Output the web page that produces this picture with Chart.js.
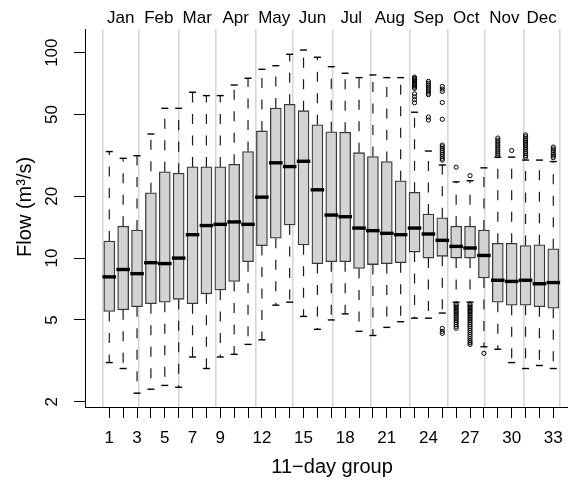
<!DOCTYPE html>
<html>
<head>
<meta charset="utf-8">
<script src="https://cdn.jsdelivr.net/npm/chart.js@4.4.1/dist/chart.umd.min.js"></script>
<style>
  html, body { margin: 0; padding: 0; background: #fff; }
  #wrap { width: 568px; height: 480px; }
</style>
</head>
<body>
<div id="wrap"><canvas id="chart" width="568" height="480"></canvas></div>
<script>
// Flow per 11-day group of the year (m³/s): box-and-whisker summaries
const groups = [1, 2, 3, 4, 5, 6, 7, 8, 9, 10, 11, 12, 13, 14, 15, 16, 17,
                18, 19, 20, 21, 22, 23, 24, 25, 26, 27, 28, 29, 30, 31, 32, 33];

const whiskerHigh = [33.0, 30.6, 31.5, 40.2, 53.6, 53.6, 64.2, 61.8, 61.8, 69.6, 75.1,
                     83.0, 86.4, 98.2, 103, 95.0, 85.5, 79.4, 75.6, 77.9, 75.6, 75.6,
                     51.3, 33.2, 28.4, 23.5, 23.8, 27.5, 31.0, 31.0, 30.0, 30.0, 29.5];

const upperQuartile = [12.1, 14.3, 13.7, 20.8, 26.3, 25.9, 27.8, 27.8, 27.8, 28.6, 33.0,
                       41.6, 53.8, 56.1, 52.2, 44.6, 41.2, 41.0, 32.6, 31.2, 29.5, 23.8,
                       20.9, 16.4, 15.7, 14.3, 14.3, 13.7, 11.8, 11.8, 11.5, 11.6, 11.1];

const median = [8.1, 8.8, 8.4, 9.5, 9.4, 10.0, 13.0, 14.4, 14.6, 15.0, 14.6,
                19.8, 29.1, 27.9, 29.6, 21.5, 16.2, 15.9, 14.0, 13.6, 13.2, 13.0,
                14.0, 13.1, 12.2, 11.4, 11.2, 10.3, 7.8, 7.7, 7.8, 7.5, 7.6];

const lowerQuartile = [5.5, 5.6, 5.8, 6.0, 6.1, 6.3, 6.0, 6.7, 7.0, 7.7, 9.6,
                       11.5, 12.5, 14.5, 11.6, 9.4, 9.6, 9.6, 8.9, 9.3, 9.4, 9.5,
                       10.7, 10.0, 10.2, 10.0, 10.0, 8.0, 6.1, 5.9, 5.9, 5.8, 5.7];

const whiskerLow = [3.1, 2.9, 2.2, 2.3, 2.4, 2.35, 3.3, 2.9, 3.3, 3.4, 3.8,
                    4.0, 5.9, 6.1, 5.2, 4.5, 5.0, 5.35, 4.4, 4.2, 4.6, 4.9,
                    5.1, 5.1, 5.4, 6.1, 6.1, 3.7, 3.6, 3.1, 2.9, 3.0, 2.9];

// [group, values beyond the whiskers]
const outliers = [
  [23, [76.0, 75.0, 74.0, 73.0, 72.0, 71.0, 70.0, 69.0, 68.0, 67.0, 63.0, 61.0, 59.0, 57.0]],
  [24, [72.5, 71.0, 69.5, 68.0, 66.5, 65.0, 63.5, 62.5, 48.6, 47.0]],
  [25, [68.5, 66.5, 64.8, 57.2, 47.4, 35.5, 34.8, 34.1, 33.4, 32.7, 32.0, 31.3, 30.6, 30.0,
        4.55, 4.4, 4.3]],
  [26, [27.7, 5.95, 5.85, 5.75, 5.65, 5.55, 5.45, 5.35, 5.25, 5.15, 5.05, 4.95, 4.85, 4.75,
        4.65, 4.55]],
  [27, [25.2, 5.95, 5.85, 5.75, 5.65, 5.55, 5.45, 5.35, 5.25, 5.15, 5.05, 4.95, 4.85, 4.75,
        4.65, 4.55, 4.45, 4.35, 4.25, 4.15, 4.05, 3.95, 3.87, 3.8]],
  [28, [3.44]],
  [29, [38.4, 37.5, 36.7, 35.9, 35.2, 34.4, 33.6, 32.9, 32.2, 31.5]],
  [30, [33.4]],
  [31, [39.8, 39.0, 38.2, 37.5, 36.7, 35.9, 35.2, 34.4, 33.7, 33.0, 32.3, 31.6, 31.0]],
  [33, [34.7, 34.0, 33.3, 32.6, 32.0, 31.4, 30.8]]
];

const groupTickLabels = [1, 3, 5, 7, 9, 12, 15, 18, 21, 24, 27, 30, 33];
const flowTicks = [2, 5, 10, 20, 50, 100];
const months = ['Jan', 'Feb', 'Mar', 'Apr', 'May', 'Jun', 'Jul', 'Aug', 'Sep', 'Oct', 'Nov', 'Dec'];
// month boundaries expressed on the 11-day group axis
const monthEdges = [0.52, 3.14, 6.0, 8.67, 11.55, 14.22, 17.07, 19.81, 22.62, 25.39, 28.06, 30.89, 33.43];

// ---- derived point lists for the chart ----
const monthCentres = months.map((m, i) => (monthEdges[i] + monthEdges[i + 1]) / 2);

const boxData = groups.map((g, i) => ({ x: g, y: [lowerQuartile[i], upperQuartile[i]] }));
const medianData = groups.map((g, i) => ({ x: g, y: median[i] }));
const capData = [];
const whiskerData = [];
groups.forEach((g, i) => {
  capData.push({ x: g, y: whiskerHigh[i] }, { x: g, y: whiskerLow[i] });
  whiskerData.push({ x: g, y: upperQuartile[i] }, { x: g, y: whiskerHigh[i] }, { x: g, y: null });
  whiskerData.push({ x: g, y: lowerQuartile[i] }, { x: g, y: whiskerLow[i] }, { x: g, y: null });
});
const outlierData = [];
outliers.forEach(([g, vals]) => vals.forEach(v => outlierData.push({ x: g, y: v })));

const FONT = "'Liberation Sans', Arial, Helvetica, sans-serif";
Chart.defaults.font.family = FONT;
Chart.defaults.color = '#000';

const X_MIN = -0.75, X_MAX = 34.06;

// horizontal axes: no extra side padding for overhanging labels
const noSidePadding = s => { s.paddingLeft = 0; s.paddingRight = 0; };

new Chart(document.getElementById('chart'), {
  type: 'bar',
  data: {
    datasets: [
      {
        type: 'bar', data: boxData,
        backgroundColor: '#d3d3d3', borderColor: '#3a3a3a', borderWidth: 1.3,
        borderSkipped: false, barThickness: 11, order: 3
      },
      {
        type: 'line', data: whiskerData,
        borderColor: '#1a1a1a', borderWidth: 1.2, borderDash: [10, 11.5],
        pointRadius: 0, spanGaps: false, fill: false, order: 4
      },
      {
        type: 'scatter', data: capData,
        pointStyle: 'line', pointRadius: 3.5, pointBorderWidth: 1.4,
        pointBorderColor: '#000', borderColor: '#000', order: 2
      },
      {
        type: 'scatter', data: outlierData,
        pointStyle: 'circle', pointRadius: 2.1, pointBorderWidth: 1,
        pointBorderColor: '#000', pointBackgroundColor: 'rgba(0,0,0,0)',
        borderColor: '#000', order: 1
      },
      {
        type: 'scatter', data: medianData,
        pointStyle: 'line', pointRadius: 6.8, pointBorderWidth: 3.4,
        pointBorderColor: '#000', borderColor: '#000', order: 0
      }
    ]
  },
  options: {
    responsive: false,
    animation: false,
    events: [],
    layout: { padding: 0, autoPadding: false },
    plugins: { legend: { display: false }, tooltip: { enabled: false } },
    scales: {
      x: {
        type: 'linear', position: 'bottom', min: X_MIN, max: X_MAX,
        bounds: 'data', offset: false,
        afterBuildTicks: s => { s.ticks = groups.map(v => ({ value: v })); },
        afterFit: s => { s.height = 73; noSidePadding(s); },
        ticks: {
          autoSkip: false, minRotation: 0, maxRotation: 0, padding: 10,
          color: '#000', font: { size: 17 },
          callback: v => groupTickLabels.includes(v) ? String(v) : ''
        },
        grid: { display: true, offset: false, drawOnChartArea: false, drawTicks: true, tickLength: 11, tickColor: '#000', tickWidth: 1 },
        border: { display: true, color: '#000', width: 1 },
        title: { display: true, text: '  11\u2212day group', color: '#000', font: { size: 20 }, padding: { top: 0, bottom: 1 } }
      },
      monthLines: {
        type: 'linear', position: 'top', min: X_MIN, max: X_MAX, bounds: 'data', offset: false,
        afterBuildTicks: s => { s.ticks = monthEdges.map(v => ({ value: v })); },
        afterFit: s => { s.height = 0; noSidePadding(s); },
        ticks: { display: false },
        grid: { display: true, offset: false, drawOnChartArea: true, drawTicks: false, color: '#d6d6d6', lineWidth: 1.5 },
        border: { display: false }
      },
      monthNames: {
        type: 'linear', position: 'top', min: X_MIN, max: X_MAX, bounds: 'data', offset: false,
        afterBuildTicks: s => { s.ticks = monthCentres.map(v => ({ value: v })); },
        afterFit: s => { s.height = 29; noSidePadding(s); },
        ticks: {
          autoSkip: false, minRotation: 0, maxRotation: 0, padding: 0,
          color: '#000', font: { size: 17 },
          callback: (v, i) => months[i]
        },
        grid: { display: false, offset: false, drawTicks: false },
        border: { display: false }
      },
      y: {
        type: 'logarithmic', position: 'left', min: 1.884, max: 130.4, bounds: 'data',
        afterBuildTicks: s => { s.ticks = flowTicks.map(v => ({ value: v })); },
        afterFit: s => { s.width = 85; s.paddingTop = 0; s.paddingBottom = 0; },
        ticks: {
          autoSkip: false, minRotation: 90, maxRotation: 90, crossAlign: 'center', padding: 7.3,
          color: '#000', font: { size: 17 },
          callback: v => String(v)
        },
        grid: { display: true, drawOnChartArea: false, drawTicks: true, tickLength: 11, tickColor: '#000', tickWidth: 1 },
        border: { display: true, color: '#000', width: 1 },
        title: { display: true, text: '    Flow (m\u00b3/s)', color: '#000', font: { size: 20 }, padding: { top: 13, bottom: 0 } }
      }
    }
  }
});
</script>
</body>
</html>
